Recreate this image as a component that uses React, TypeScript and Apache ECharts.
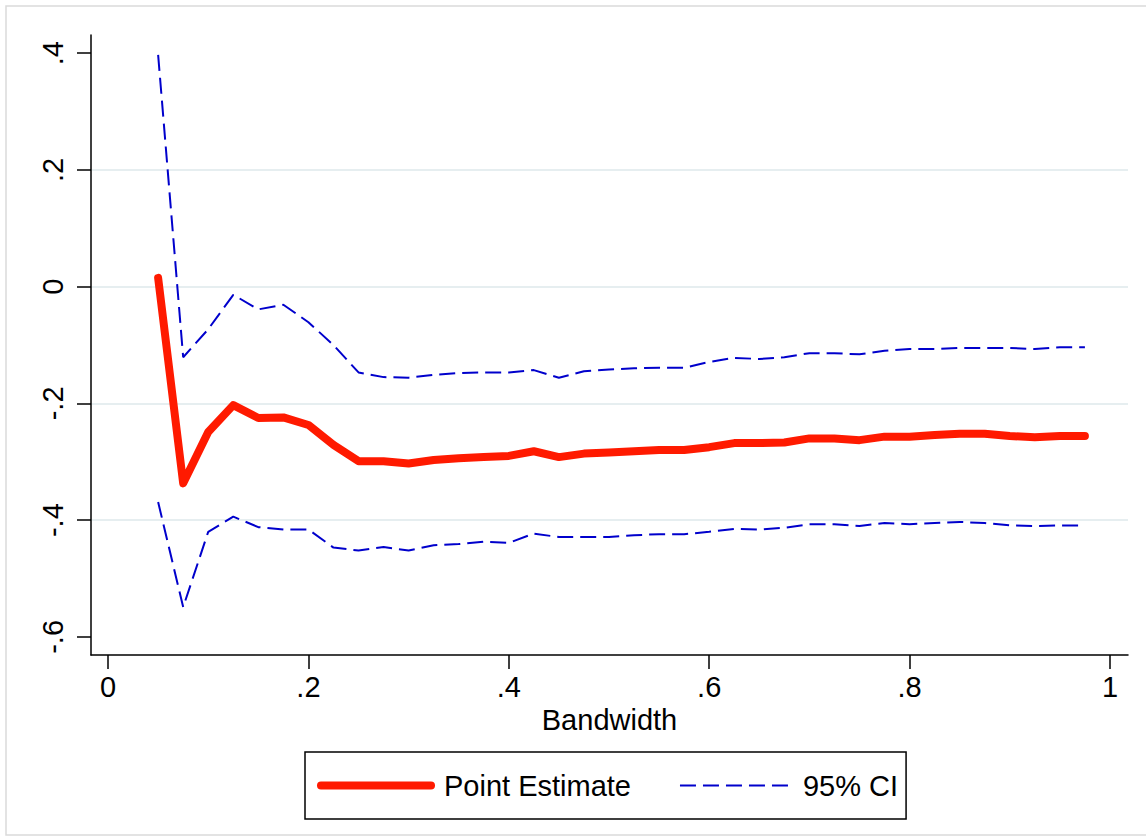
import React, { useEffect, useRef } from "react";
import * as echarts from "echarts";

const bandwidth = [
  0.05, 0.075, 0.1, 0.125, 0.15, 0.175, 0.2, 0.225, 0.25, 0.275, 0.3, 0.325,
  0.35, 0.375, 0.4, 0.425, 0.45, 0.475, 0.5, 0.525, 0.55, 0.575, 0.6, 0.625,
  0.65, 0.675, 0.7, 0.725, 0.75, 0.775, 0.8, 0.825, 0.85, 0.875, 0.9, 0.925,
  0.95, 0.975,
];

const pointEstimate = [
  0.015, -0.337, -0.249, -0.203, -0.225, -0.224, -0.237, -0.271, -0.299, -0.299,
  -0.303, -0.297, -0.294, -0.292, -0.29, -0.282, -0.292, -0.286, -0.284, -0.282,
  -0.28, -0.28, -0.275, -0.268, -0.268, -0.267, -0.26, -0.26, -0.263, -0.257,
  -0.257, -0.254, -0.252, -0.252, -0.256, -0.258, -0.256, -0.256,
];

const ciUpper = [
  0.397, -0.121, -0.073, -0.014, -0.039, -0.031, -0.061, -0.1, -0.147, -0.155,
  -0.156, -0.151, -0.148, -0.147, -0.147, -0.143, -0.156, -0.145, -0.142, -0.14,
  -0.139, -0.139, -0.129, -0.122, -0.124, -0.121, -0.114, -0.114, -0.116, -0.11,
  -0.107, -0.107, -0.105, -0.105, -0.105, -0.107, -0.104, -0.104,
];

const ciLower = [
  -0.369, -0.549, -0.42, -0.394, -0.412, -0.416, -0.416, -0.447, -0.452, -0.446,
  -0.452, -0.443, -0.441, -0.437, -0.439, -0.423, -0.429, -0.429, -0.429, -0.426,
  -0.424, -0.424, -0.42, -0.415, -0.416, -0.413, -0.407, -0.407, -0.41, -0.405,
  -0.407, -0.405, -0.403, -0.405, -0.409, -0.41, -0.409, -0.409,
];

const xTicks = [0, 0.2, 0.4, 0.6, 0.8, 1];
const yTicks = [-0.6, -0.4, -0.2, 0, 0.2, 0.4];

const FONT = "'Liberation Sans', Arial, sans-serif";
const RED = "#ff1a00";
const BLUE = "#0000cc";

function fmt(v: number): string {
  const r = Math.round(v * 10) / 10;
  if (r === 0) return "0";
  if (r === 1) return "1";
  const s = String(r);
  return s.replace(/^(-?)0\./, "$1.");
}

function pairs(ys: number[]) {
  return bandwidth.map((x, i) => [x, ys[i]]);
}

export default function App() {
  const ref = useRef<HTMLDivElement>(null);
  useEffect(() => {
    if (!ref.current) return;
    const chart = echarts.init(ref.current, null, { renderer: "svg" });
    chart.setOption({
      animation: false,
      backgroundColor: "#ffffff",
      graphic: [
        {
          type: "rect",
          shape: { x: 6, y: 6, width: 1146, height: 829 },
          style: { fill: "none", stroke: "#dadada", lineWidth: 1.5 },
          silent: true,
          z: -10,
        },
      ],
      grid: { left: 91, right: 18, top: 35, bottom: 182, containLabel: false },
      xAxis: {
        type: "value",
        min: -0.017,
        max: 1.018,
        name: "Bandwidth",
        nameLocation: "middle",
        nameGap: 45,
        nameTextStyle: { fontFamily: FONT, fontSize: 29, color: "#000" },
        axisLine: { show: true, onZero: false, lineStyle: { color: "#000", width: 1.5 } },
        axisTick: { show: true, length: 14, lineStyle: { color: "#000", width: 1.5 }, customValues: xTicks },
        axisLabel: {
          customValues: xTicks,
          formatter: (v: number) => fmt(v),
          fontFamily: FONT,
          fontSize: 29,
          color: "#000",
          margin: 17,
        },
        splitLine: { show: false },
      },
      yAxis: {
        type: "value",
        min: -0.631,
        max: 0.431,
        axisLine: { show: true, onZero: false, lineStyle: { color: "#000", width: 1.5 } },
        axisTick: { show: true, length: 14, lineStyle: { color: "#000", width: 1.5 }, customValues: yTicks },
        axisLabel: {
          customValues: yTicks,
          formatter: (v: number) => fmt(v),
          fontFamily: FONT,
          fontSize: 29,
          color: "#000",
          rotate: 90,
          margin: 24,
        },
        splitLine: {
          show: true,
          showMinLine: false,
          showMaxLine: false,
          lineStyle: { color: "#e6eef0", width: 2 },
        },
      },
      legend: {
        left: 305,
        top: 752,
        orient: "horizontal",
        itemWidth: 110,
        itemHeight: 10,
        itemGap: 48,
        padding: [19, 8, 19, 12],
        borderColor: "#000",
        borderWidth: 1.5,
        textStyle: { fontFamily: FONT, fontSize: 29, color: "#000", padding: [0, 0, 0, 8] },
        data: [
          { name: "Point Estimate", lineStyle: { width: 8 }, itemStyle: { opacity: 0 } },
          { name: "95% CI", lineStyle: { width: 2 }, itemStyle: { opacity: 0 } },
        ],
      },
      series: [
        {
          name: "95% CI",
          type: "line",
          data: pairs(ciUpper),
          symbol: "none",
          lineStyle: { color: BLUE, width: 2, type: [16, 7] },
          itemStyle: { color: BLUE },
          z: 2,
        },
        {
          name: "95% CI",
          type: "line",
          data: pairs(ciLower),
          symbol: "none",
          lineStyle: { color: BLUE, width: 2, type: [16, 7] },
          itemStyle: { color: BLUE },
          z: 2,
        },
        {
          name: "Point Estimate",
          type: "line",
          data: pairs(pointEstimate),
          symbol: "none",
          lineStyle: { color: RED, width: 8, cap: "round", join: "round" },
          itemStyle: { color: RED },
          z: 3,
        },
      ],
    });
    return () => chart.dispose();
  }, []);
  return (
    <div
      ref={ref}
      style={{ position: "absolute", left: 0, top: 0, width: 1146, height: 837 }}
    />
  );
}
